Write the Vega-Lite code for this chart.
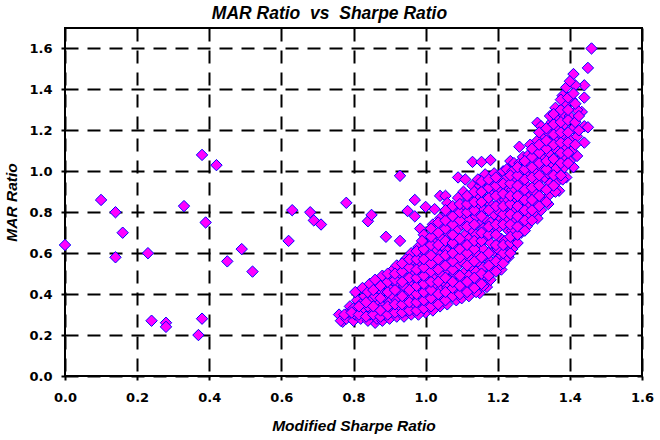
{"$schema":"https://vega.github.io/schema/vega-lite/v6.json","width":577,"height":348,"autosize":"none","padding":{"left":65,"top":28,"right":18,"bottom":64},"background":"white",
"title":{"text":"MAR Ratio \u00a0vs \u00a0Sharpe Ratio","font":"Liberation Sans","fontSize":17.5,"fontWeight":"bold","fontStyle":"italic","color":"black","anchor":"middle","dx":-24,"offset":6},
"config":{"view":{"stroke":"black","strokeWidth":2}},
"data":{"values":[
{"x":0,"y":0.64},{"x":0.1,"y":0.86},{"x":0.14,"y":0.8},{"x":0.14,"y":0.58},{"x":0.16,"y":0.7},{"x":0.23,"y":0.6},{"x":0.24,"y":0.27},{"x":0.28,"y":0.26},{"x":0.28,"y":0.24},{"x":0.33,"y":0.83},{"x":0.37,"y":0.2},{"x":0.38,"y":1.08},{"x":0.38,"y":0.28},{"x":0.39,"y":0.75},{"x":0.42,"y":1.03},{"x":0.45,"y":0.56},{"x":0.49,"y":0.62},{"x":0.52,"y":0.51},{"x":0.62,"y":0.66},{"x":0.63,"y":0.81},{"x":0.68,"y":0.8},{"x":0.69,"y":0.76},{"x":0.71,"y":0.74},{"x":0.78,"y":0.846},{"x":0.84,"y":0.756},{"x":0.85,"y":0.787},{"x":0.89,"y":0.68},{"x":0.929,"y":0.978},{"x":0.929,"y":0.66},{"x":0.95,"y":0.806},{"x":0.97,"y":0.86},{"x":0.97,"y":0.78},{"x":1.0,"y":0.826},{"x":1.025,"y":0.815},{"x":0.985,"y":0.72},{"x":1.09,"y":0.97},{"x":1.11,"y":0.96},{"x":1.13,"y":1.046},{"x":1.155,"y":1.046},{"x":1.18,"y":1.055},{"x":1.04,"y":0.88},{"x":1.055,"y":0.88},{"x":1.235,"y":1.05},{"x":1.26,"y":1.12},{"x":1.29,"y":1.13},{"x":1.31,"y":1.237},{"x":1.46,"y":1.6},{"x":1.45,"y":1.505},{"x":1.41,"y":1.475},{"x":1.44,"y":1.42},{"x":1.39,"y":1.41},{"x":1.44,"y":1.36},{"x":1.433,"y":1.29},{"x":1.44,"y":1.22},{"x":1.45,"y":1.215},{"x":1.44,"y":1.14},{"x":1.42,"y":1.075},{"x":1.41,"y":1.02},{"x":1.39,"y":0.97},{"x":1.37,"y":0.905},{"x":1.34,"y":0.84},{"x":1.31,"y":0.77},{"x":1.265,"y":0.7},{"x":1.23,"y":0.58},{"x":1.21,"y":0.52},{"x":1.17,"y":0.435},{"x":1.15,"y":0.405},{"x":1.085,"y":0.37},{"x":1.0,"y":0.31},{"x":0.86,"y":0.26},{"x":0.77,"y":0.265},
{"x":0.76,"y":0.3},{"x":0.765,"y":0.27},{"x":0.78,"y":0.28},{"x":0.785,"y":0.31},{"x":0.79,"y":0.34},{"x":0.8,"y":0.27},{"x":0.805,"y":0.3},{"x":0.8,"y":0.33},{"x":0.81,"y":0.37},{"x":0.805,"y":0.41},{"x":0.82,"y":0.28},{"x":0.825,"y":0.32},{"x":0.82,"y":0.35},{"x":0.83,"y":0.39},{"x":0.825,"y":0.43},{"x":0.84,"y":0.27},{"x":0.845,"y":0.3},{"x":0.84,"y":0.34},{"x":0.85,"y":0.37},{"x":0.84,"y":0.41},{"x":0.845,"y":0.45},{"x":0.865,"y":0.28},{"x":0.86,"y":0.32},{"x":0.87,"y":0.36},{"x":0.86,"y":0.39},{"x":0.865,"y":0.43},{"x":0.86,"y":0.47},{"x":0.88,"y":0.27},{"x":0.885,"y":0.3},{"x":0.88,"y":0.34},{"x":0.89,"y":0.38},{"x":0.88,"y":0.41},{"x":0.885,"y":0.45},{"x":0.88,"y":0.49},
{"x":0.9,"y":0.28},{"x":0.905,"y":0.32},{"x":0.9,"y":0.36},{"x":0.91,"y":0.39},{"x":0.9,"y":0.43},{"x":0.905,"y":0.47},{"x":0.91,"y":0.52},{"x":0.92,"y":0.29},{"x":0.925,"y":0.33},{"x":0.92,"y":0.37},{"x":0.93,"y":0.41},{"x":0.92,"y":0.45},{"x":0.925,"y":0.49},{"x":0.92,"y":0.54},{"x":0.94,"y":0.29},{"x":0.945,"y":0.32},{"x":0.94,"y":0.36},{"x":0.95,"y":0.4},{"x":0.94,"y":0.44},{"x":0.945,"y":0.48},{"x":0.94,"y":0.52},{"x":0.945,"y":0.57},{"x":0.96,"y":0.3},{"x":0.965,"y":0.34},{"x":0.96,"y":0.38},{"x":0.97,"y":0.42},{"x":0.96,"y":0.46},{"x":0.965,"y":0.5},{"x":0.96,"y":0.55},{"x":0.96,"y":0.6},{"x":0.98,"y":0.3},{"x":0.985,"y":0.34},{"x":0.98,"y":0.38},{"x":0.99,"y":0.42},{"x":0.98,"y":0.46},{"x":0.985,"y":0.5},{"x":0.98,"y":0.54},{"x":0.985,"y":0.59},{"x":0.98,"y":0.63},
{"x":1.0,"y":0.35},{"x":1.005,"y":0.39},{"x":1.0,"y":0.43},{"x":1.01,"y":0.47},{"x":1.0,"y":0.51},{"x":1.005,"y":0.55},{"x":1.0,"y":0.6},{"x":1.005,"y":0.64},{"x":0.995,"y":0.69},{"x":1.02,"y":0.32},{"x":1.025,"y":0.36},{"x":1.02,"y":0.4},{"x":1.03,"y":0.44},{"x":1.02,"y":0.49},{"x":1.025,"y":0.53},{"x":1.02,"y":0.57},{"x":1.03,"y":0.62},{"x":1.02,"y":0.66},{"x":1.025,"y":0.7},{"x":1.02,"y":0.74},{"x":1.04,"y":0.34},{"x":1.045,"y":0.38},{"x":1.04,"y":0.42},{"x":1.05,"y":0.46},{"x":1.04,"y":0.5},{"x":1.045,"y":0.55},{"x":1.04,"y":0.59},{"x":1.05,"y":0.63},{"x":1.04,"y":0.68},{"x":1.045,"y":0.72},{"x":1.04,"y":0.77},{"x":1.06,"y":0.35},{"x":1.065,"y":0.39},{"x":1.06,"y":0.43},{"x":1.07,"y":0.48},{"x":1.06,"y":0.52},{"x":1.065,"y":0.56},{"x":1.06,"y":0.61},{"x":1.07,"y":0.65},{"x":1.06,"y":0.7},{"x":1.065,"y":0.74},{"x":1.06,"y":0.79},{"x":1.06,"y":0.845},
{"x":1.08,"y":0.41},{"x":1.085,"y":0.45},{"x":1.08,"y":0.5},{"x":1.09,"y":0.54},{"x":1.08,"y":0.58},{"x":1.085,"y":0.63},{"x":1.08,"y":0.67},{"x":1.09,"y":0.72},{"x":1.08,"y":0.76},{"x":1.085,"y":0.81},{"x":1.09,"y":0.87},{"x":1.1,"y":0.38},{"x":1.105,"y":0.42},{"x":1.1,"y":0.47},{"x":1.11,"y":0.51},{"x":1.1,"y":0.56},{"x":1.105,"y":0.6},{"x":1.1,"y":0.65},{"x":1.11,"y":0.69},{"x":1.1,"y":0.74},{"x":1.105,"y":0.78},{"x":1.1,"y":0.83},{"x":1.105,"y":0.9},{"x":1.12,"y":0.39},{"x":1.125,"y":0.44},{"x":1.12,"y":0.49},{"x":1.13,"y":0.53},{"x":1.12,"y":0.58},{"x":1.125,"y":0.62},{"x":1.12,"y":0.67},{"x":1.13,"y":0.71},{"x":1.12,"y":0.76},{"x":1.125,"y":0.81},{"x":1.12,"y":0.86},{"x":1.13,"y":0.93},
{"x":1.14,"y":0.41},{"x":1.145,"y":0.46},{"x":1.14,"y":0.51},{"x":1.15,"y":0.55},{"x":1.14,"y":0.6},{"x":1.145,"y":0.64},{"x":1.14,"y":0.69},{"x":1.15,"y":0.74},{"x":1.14,"y":0.78},{"x":1.145,"y":0.83},{"x":1.14,"y":0.88},{"x":1.15,"y":0.93},{"x":1.145,"y":0.96},{"x":1.16,"y":0.44},{"x":1.165,"y":0.49},{"x":1.16,"y":0.53},{"x":1.17,"y":0.58},{"x":1.16,"y":0.62},{"x":1.165,"y":0.67},{"x":1.16,"y":0.72},{"x":1.17,"y":0.76},{"x":1.16,"y":0.81},{"x":1.165,"y":0.86},{"x":1.16,"y":0.91},{"x":1.165,"y":0.985},{"x":1.18,"y":0.47},{"x":1.185,"y":0.52},{"x":1.18,"y":0.56},{"x":1.19,"y":0.61},{"x":1.18,"y":0.65},{"x":1.185,"y":0.7},{"x":1.18,"y":0.75},{"x":1.19,"y":0.79},{"x":1.18,"y":0.84},{"x":1.185,"y":0.89},{"x":1.18,"y":0.94},{"x":1.19,"y":0.99},
{"x":1.2,"y":0.53},{"x":1.205,"y":0.58},{"x":1.2,"y":0.62},{"x":1.21,"y":0.67},{"x":1.2,"y":0.72},{"x":1.205,"y":0.76},{"x":1.2,"y":0.81},{"x":1.21,"y":0.86},{"x":1.2,"y":0.91},{"x":1.205,"y":0.96},{"x":1.215,"y":1.0},{"x":1.22,"y":0.57},{"x":1.225,"y":0.62},{"x":1.22,"y":0.66},{"x":1.23,"y":0.71},{"x":1.22,"y":0.76},{"x":1.225,"y":0.81},{"x":1.22,"y":0.86},{"x":1.23,"y":0.91},{"x":1.22,"y":0.96},{"x":1.225,"y":1.01},{"x":1.24,"y":0.62},{"x":1.245,"y":0.67},{"x":1.24,"y":0.71},{"x":1.25,"y":0.76},{"x":1.24,"y":0.81},{"x":1.245,"y":0.86},{"x":1.24,"y":0.91},{"x":1.25,"y":0.96},{"x":1.24,"y":1.0},{"x":1.245,"y":1.04},
{"x":1.26,"y":0.74},{"x":1.265,"y":0.79},{"x":1.26,"y":0.84},{"x":1.27,"y":0.89},{"x":1.26,"y":0.94},{"x":1.265,"y":0.99},{"x":1.26,"y":1.04},{"x":1.27,"y":1.07},{"x":1.28,"y":0.73},{"x":1.285,"y":0.78},{"x":1.28,"y":0.83},{"x":1.29,"y":0.88},{"x":1.28,"y":0.93},{"x":1.285,"y":0.98},{"x":1.28,"y":1.03},{"x":1.285,"y":1.08},{"x":1.3,"y":0.8},{"x":1.305,"y":0.85},{"x":1.3,"y":0.9},{"x":1.31,"y":0.95},{"x":1.3,"y":1.0},{"x":1.305,"y":1.05},{"x":1.3,"y":1.1},{"x":1.31,"y":1.15},{"x":1.32,"y":0.81},{"x":1.325,"y":0.86},{"x":1.32,"y":0.92},{"x":1.33,"y":0.97},{"x":1.32,"y":1.02},{"x":1.325,"y":1.07},{"x":1.32,"y":1.12},{"x":1.33,"y":1.17},{"x":1.32,"y":1.22},
{"x":1.34,"y":0.88},{"x":1.345,"y":0.94},{"x":1.34,"y":0.99},{"x":1.35,"y":1.04},{"x":1.34,"y":1.09},{"x":1.345,"y":1.14},{"x":1.34,"y":1.19},{"x":1.35,"y":1.24},{"x":1.345,"y":1.27},{"x":1.36,"y":0.9},{"x":1.365,"y":0.95},{"x":1.36,"y":1.01},{"x":1.37,"y":1.06},{"x":1.36,"y":1.11},{"x":1.365,"y":1.16},{"x":1.36,"y":1.21},{"x":1.37,"y":1.26},{"x":1.36,"y":1.31},{"x":1.38,"y":0.96},{"x":1.385,"y":1.02},{"x":1.38,"y":1.07},{"x":1.39,"y":1.12},{"x":1.38,"y":1.17},{"x":1.385,"y":1.23},{"x":1.38,"y":1.28},{"x":1.39,"y":1.33},{"x":1.38,"y":1.37},{"x":1.4,"y":1.05},{"x":1.405,"y":1.1},{"x":1.4,"y":1.16},{"x":1.41,"y":1.21},{"x":1.4,"y":1.27},{"x":1.42,"y":1.3},{"x":1.405,"y":1.35},{"x":1.42,"y":1.17},{"x":1.415,"y":1.42},{"x":1.4,"y":1.44},
{"x":0.775,"y":0.3},{"x":0.795,"y":0.31},{"x":0.815,"y":0.3},{"x":0.815,"y":0.34},{"x":0.835,"y":0.29},{"x":0.835,"y":0.36},{"x":0.855,"y":0.3},{"x":0.855,"y":0.34},{"x":0.855,"y":0.42},{"x":0.875,"y":0.29},{"x":0.875,"y":0.32},{"x":0.875,"y":0.38},{"x":0.875,"y":0.44},{"x":0.895,"y":0.3},{"x":0.895,"y":0.34},{"x":0.895,"y":0.41},{"x":0.895,"y":0.46},{"x":0.895,"y":0.5},{"x":0.915,"y":0.31},{"x":0.915,"y":0.35},{"x":0.915,"y":0.42},{"x":0.915,"y":0.47},{"x":0.915,"y":0.5},{"x":0.935,"y":0.31},{"x":0.935,"y":0.35},{"x":0.935,"y":0.39},{"x":0.935,"y":0.46},{"x":0.935,"y":0.51},{"x":0.935,"y":0.55},{"x":0.955,"y":0.32},{"x":0.955,"y":0.36},{"x":0.955,"y":0.42},{"x":0.955,"y":0.48},{"x":0.955,"y":0.53},{"x":0.955,"y":0.57},{"x":0.975,"y":0.32},{"x":0.975,"y":0.36},{"x":0.975,"y":0.4},{"x":0.975,"y":0.44},{"x":0.975,"y":0.48},{"x":0.975,"y":0.52},{"x":0.975,"y":0.57},{"x":0.975,"y":0.61},{"x":0.995,"y":0.33},{"x":0.995,"y":0.37},{"x":0.995,"y":0.41},{"x":0.995,"y":0.45},{"x":0.995,"y":0.49},{"x":0.995,"y":0.53},{"x":0.995,"y":0.57},{"x":0.995,"y":0.62},{"x":0.99,"y":0.66},
{"x":1.015,"y":0.34},{"x":1.015,"y":0.38},{"x":1.015,"y":0.42},{"x":1.015,"y":0.46},{"x":1.015,"y":0.51},{"x":1.015,"y":0.55},{"x":1.015,"y":0.59},{"x":1.015,"y":0.64},{"x":1.015,"y":0.68},{"x":1.015,"y":0.72},{"x":1.035,"y":0.35},{"x":1.035,"y":0.4},{"x":1.035,"y":0.46},{"x":1.035,"y":0.52},{"x":1.035,"y":0.57},{"x":1.035,"y":0.64},{"x":1.035,"y":0.7},{"x":1.035,"y":0.75},{"x":1.055,"y":0.37},{"x":1.055,"y":0.41},{"x":1.055,"y":0.48},{"x":1.055,"y":0.54},{"x":1.055,"y":0.59},{"x":1.055,"y":0.66},{"x":1.055,"y":0.72},{"x":1.055,"y":0.76},{"x":1.055,"y":0.81},{"x":1.075,"y":0.39},{"x":1.075,"y":0.43},{"x":1.075,"y":0.46},{"x":1.075,"y":0.52},{"x":1.075,"y":0.56},{"x":1.075,"y":0.6},{"x":1.075,"y":0.65},{"x":1.075,"y":0.69},{"x":1.075,"y":0.74},{"x":1.075,"y":0.78},{"x":1.075,"y":0.83},{"x":1.095,"y":0.4},{"x":1.095,"y":0.44},{"x":1.095,"y":0.49},{"x":1.095,"y":0.58},{"x":1.095,"y":0.62},{"x":1.095,"y":0.67},{"x":1.095,"y":0.76},{"x":1.095,"y":0.8},{"x":1.095,"y":0.84},
{"x":1.115,"y":0.41},{"x":1.115,"y":0.46},{"x":1.115,"y":0.54},{"x":1.115,"y":0.6},{"x":1.115,"y":0.64},{"x":1.115,"y":0.73},{"x":1.115,"y":0.8},{"x":1.115,"y":0.84},{"x":1.115,"y":0.88},{"x":1.135,"y":0.43},{"x":1.135,"y":0.48},{"x":1.135,"y":0.56},{"x":1.135,"y":0.62},{"x":1.135,"y":0.66},{"x":1.135,"y":0.74},{"x":1.135,"y":0.81},{"x":1.135,"y":0.85},{"x":1.135,"y":0.9},{"x":1.155,"y":0.45},{"x":1.155,"y":0.5},{"x":1.155,"y":0.58},{"x":1.155,"y":0.66},{"x":1.155,"y":0.7},{"x":1.155,"y":0.78},{"x":1.155,"y":0.85},{"x":1.155,"y":0.9},{"x":1.155,"y":0.95},{"x":1.175,"y":0.49},{"x":1.175,"y":0.54},{"x":1.175,"y":0.6},{"x":1.175,"y":0.69},{"x":1.175,"y":0.73},{"x":1.175,"y":0.81},{"x":1.175,"y":0.87},{"x":1.175,"y":0.92},{"x":1.175,"y":0.96},{"x":1.195,"y":0.51},{"x":1.195,"y":0.56},{"x":1.195,"y":0.64},{"x":1.195,"y":0.69},{"x":1.195,"y":0.74},{"x":1.195,"y":0.83},{"x":1.195,"y":0.88},{"x":1.195,"y":0.93},{"x":1.195,"y":0.97},
{"x":1.215,"y":0.55},{"x":1.215,"y":0.6},{"x":1.215,"y":0.64},{"x":1.215,"y":0.74},{"x":1.215,"y":0.79},{"x":1.215,"y":0.83},{"x":1.215,"y":0.89},{"x":1.215,"y":0.94},{"x":1.235,"y":0.6},{"x":1.235,"y":0.65},{"x":1.235,"y":0.68},{"x":1.235,"y":0.74},{"x":1.235,"y":0.79},{"x":1.235,"y":0.84},{"x":1.235,"y":0.88},{"x":1.235,"y":0.94},{"x":1.235,"y":0.98},{"x":1.255,"y":0.65},{"x":1.255,"y":0.69},{"x":1.255,"y":0.73},{"x":1.255,"y":0.78},{"x":1.255,"y":0.83},{"x":1.255,"y":0.88},{"x":1.255,"y":0.93},{"x":1.255,"y":0.98},{"x":1.255,"y":1.02},{"x":1.275,"y":0.71},{"x":1.275,"y":0.76},{"x":1.275,"y":0.81},{"x":1.275,"y":0.86},{"x":1.275,"y":0.91},{"x":1.275,"y":0.96},{"x":1.275,"y":1.01},{"x":1.275,"y":1.05},{"x":1.295,"y":0.76},{"x":1.295,"y":0.81},{"x":1.295,"y":0.86},{"x":1.295,"y":0.92},{"x":1.295,"y":0.97},{"x":1.295,"y":1.02},{"x":1.295,"y":1.07},{"x":1.295,"y":1.11},{"x":1.315,"y":0.83},{"x":1.315,"y":0.88},{"x":1.315,"y":0.93},{"x":1.315,"y":0.98},{"x":1.315,"y":1.04},{"x":1.315,"y":1.09},{"x":1.315,"y":1.13},{"x":1.315,"y":1.19},
{"x":1.335,"y":0.85},{"x":1.335,"y":0.91},{"x":1.335,"y":1.01},{"x":1.335,"y":1.05},{"x":1.335,"y":1.11},{"x":1.335,"y":1.15},{"x":1.335,"y":1.21},{"x":1.355,"y":0.93},{"x":1.355,"y":0.98},{"x":1.355,"y":1.06},{"x":1.355,"y":1.13},{"x":1.355,"y":1.18},{"x":1.355,"y":1.23},{"x":1.355,"y":1.28},{"x":1.375,"y":0.98},{"x":1.375,"y":1.04},{"x":1.375,"y":1.09},{"x":1.375,"y":1.14},{"x":1.375,"y":1.19},{"x":1.375,"y":1.24},{"x":1.375,"y":1.3},{"x":1.375,"y":1.35},{"x":1.395,"y":1.04},{"x":1.395,"y":1.09},{"x":1.395,"y":1.14},{"x":1.395,"y":1.19},{"x":1.395,"y":1.25},{"x":1.395,"y":1.3},{"x":1.395,"y":1.36},{"x":1.415,"y":1.13},{"x":1.415,"y":1.24},{"x":1.415,"y":1.33},{"x":1.41,"y":1.38},{"x":1.425,"y":1.27},{"x":1.425,"y":1.2}
]},
"mark":{"type":"point","shape":"diamond","filled":true,"fill":"#ff00ff","stroke":"#0000ff","strokeWidth":1,"size":130,"opacity":1},
"encoding":{
"x":{"field":"x","type":"quantitative","scale":{"domain":[0,1.6],"nice":false,"zero":false},
"axis":{"values":[0,0.2,0.4,0.6,0.8,1.0,1.2,1.4,1.6],"format":".1f","title":"Modified Sharpe Ratio","titleFont":"Liberation Sans","titleFontSize":15.5,"titleFontWeight":"bold","titleFontStyle":"italic","titleColor":"black","titlePadding":14,"labelFont":"DejaVu Sans","labelFontSize":13,"labelFontWeight":"bold","labelColor":"black","labelPadding":11,"labelFlush":false,"labelOverlap":false,"tickColor":"black","tickWidth":2,"tickSize":4,"domain":false,"grid":true,"gridColor":"black","gridWidth":2,"gridDash":[13,9],"gridOpacity":1}},
"y":{"field":"y","type":"quantitative","scale":{"domain":[0,1.7],"nice":false,"zero":false},
"axis":{"values":[0,0.2,0.4,0.6,0.8,1.0,1.2,1.4,1.6],"format":".1f","title":"MAR Ratio","titleFont":"Liberation Sans","titleFontSize":15.5,"titleFontWeight":"bold","titleFontStyle":"italic","titleColor":"black","titlePadding":9,"labelFont":"DejaVu Sans","labelFontSize":13,"labelFontWeight":"bold","labelColor":"black","labelPadding":9,"labelOverlap":false,"tickColor":"black","tickWidth":2,"tickSize":4,"domain":false,"grid":true,"gridColor":"black","gridWidth":2,"gridDash":[13,9],"gridOpacity":1}}
}}
